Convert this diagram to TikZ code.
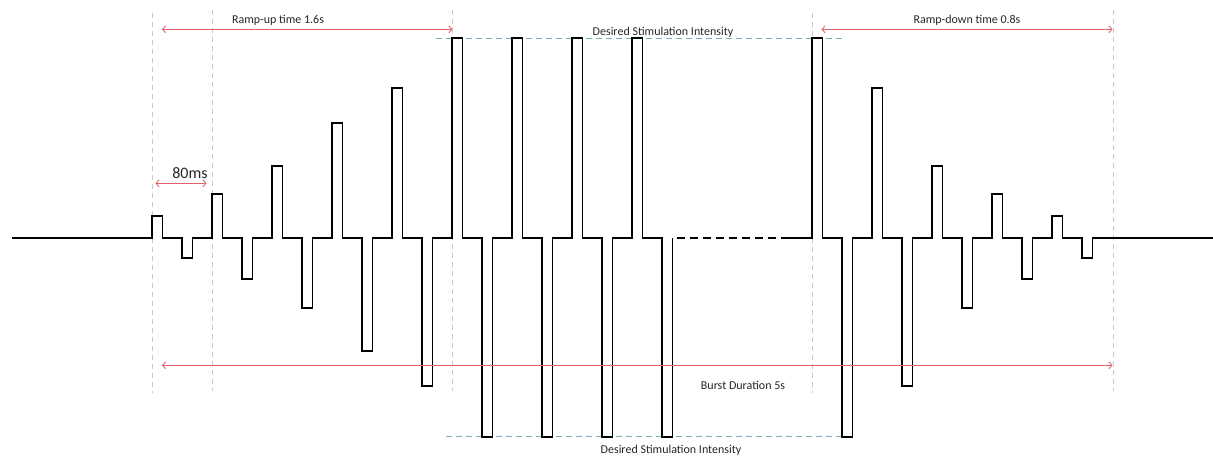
\documentclass[tikz,border=0pt]{standalone}
\usepackage{fontspec}
\setmainfont{Carlito}
\usetikzlibrary{arrows.meta}
\definecolor{arrred}{RGB}{226,100,105}
\definecolor{guidegrey}{RGB}{200,200,200}
\definecolor{levelteal}{RGB}{120,175,185}
\tikzset{
  wave/.style={line width=1.8pt, line join=miter},
  guide/.style={guidegrey, line width=1pt, dash pattern=on 5pt off 4pt},
  level/.style={levelteal, line width=1pt, dash pattern=on 6pt off 4pt},
  span/.style={arrred, line width=0.9pt, {Straight Barb[length=3pt,width=7pt]}-{Straight Barb[length=3pt,width=7pt]}},
  lbl/.style={font=\fontsize{12}{14}\selectfont, inner sep=0pt, text=black!85},
}
\begin{document}
\begin{tikzpicture}[x=1pt,y=-1pt]
\useasboundingbox (0,0) rectangle (1213,459);
% guides
\coordinate (g1t) at (152,13); \coordinate (g1b) at (152,393);
\coordinate (g2t) at (212,10); \coordinate (g2b) at (212,391);
\coordinate (g3t) at (452,10); \coordinate (g3b) at (452,391);
\coordinate (g4t) at (812,13); \coordinate (g4b) at (812,393);
\coordinate (g5t) at (1113,10); \coordinate (g5b) at (1113,391);
\draw[guide] (g1t) -- (g1b);
\draw[guide] (g2t) -- (g2b);
\draw[guide] (g3t) -- (g3b);
\draw[guide] (g4t) -- (g4b);
\draw[guide] (g5t) -- (g5b);
% level lines
\coordinate (lt1) at (436,38.3); \coordinate (lt2) at (844,38.3);
\coordinate (lb1) at (446,436.7); \coordinate (lb2) at (848,436.7);
\draw[level] (lt1) -- (lt2);
\draw[level] (lb1) -- (lb2);
% waveform
\draw[wave] (12,238)
  \foreach \x/\y in {152/216,182/258,212/194,242/279,272/166,302/308,332/123,362/351,392/88,422/386,452/38,482/437,512/38,542/437,572/38,602/437,632/38,662/437}
  { -- (\x,238) -- (\x,\y) -- (\x+10.5,\y) -- (\x+10.5,238) };
\draw[wave, dash pattern=on 8pt off 5pt, dash phase=-4pt] (672.5,238) -- (787,238);
\draw[wave] (787,238)
  \foreach \x/\y in {812/38,842/437,872/88,902/386,932/166,962/308,992/194,1022/279,1052/216,1082/258}
  { -- (\x,238) -- (\x,\y) -- (\x+10.5,\y) -- (\x+10.5,238) } -- (1213,238);
% spans
\coordinate (ru1) at (162,29.3); \coordinate (ru2) at (452.5,29.3);
\coordinate (rd1) at (821.5,29.3); \coordinate (rd2) at (1112.5,29.3);
\coordinate (ms1) at (155.5,183.3); \coordinate (ms2) at (206.5,183.3);
\coordinate (bd1) at (162,365.3); \coordinate (bd2) at (1112.5,365.3);
\draw[span] (ru1) -- (ru2);
\draw[span] (rd1) -- (rd2);
\draw[span] (ms1) -- (ms2);
\draw[span] (bd1) -- (bd2);
% labels
\node[lbl] (rampup) at (278,20) {Ramp-up time 1.6s};
\node[lbl] (rampdown) at (967,20) {Ramp-down time 0.8s};
\node[lbl] (dsitop) at (663,32) {Desired Stimulation Intensity};
\node[lbl] (dsibot) at (671,450.5) {Desired Stimulation Intensity};
\node[lbl] (burst) at (743,385) {Burst Duration 5s};
\node[lbl, font=\fontsize{16}{18}\selectfont] (ms) at (190,173) {80ms};
\end{tikzpicture}
\end{document}
